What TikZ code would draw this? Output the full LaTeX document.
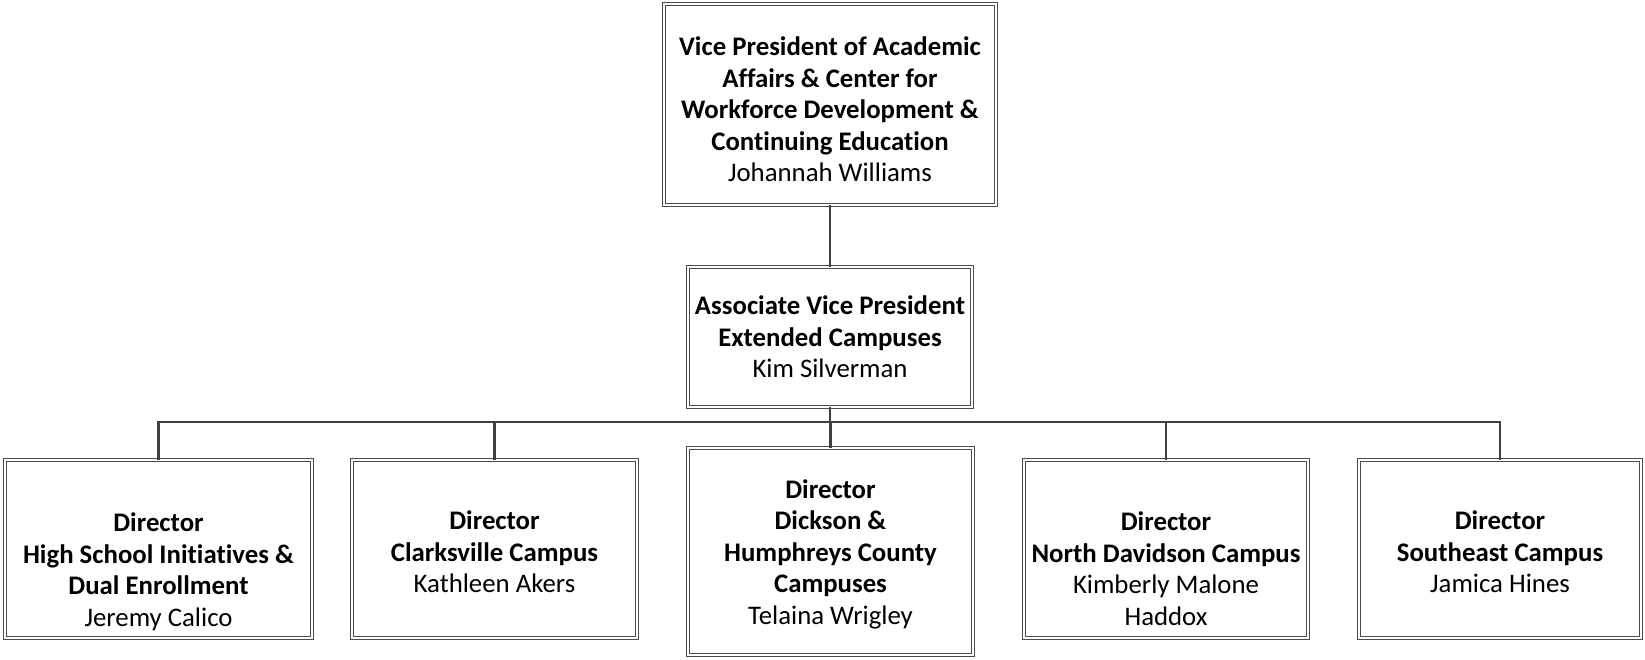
\documentclass[tikz,border=0pt]{standalone}
\usepackage{fontspec}
\setmainfont{Carlito}[Ligatures=NoCommon]
\newcommand\liftline[1]{\rule{0pt}{#1pt}}
\begin{document}
\begin{tikzpicture}[x=1pt,y=-1pt,
  box/.style={draw=black!70, double=white, double distance=2.5pt, line width=0.7pt, rectangle,
    align=center, inner sep=0pt, font=\fontsize{26.8}{31.5}\selectfont},
  conn/.style={draw=black!75, line width=2.2pt}]
\useasboundingbox (0,0) rectangle (1645,660);
\node[box, minimum width=332pt, minimum height=201pt] (vp) at (830,104.5)
  {\liftline{29}\textbf{Vice President of Academic}\\\textbf{Affairs \& Center for}\\\textbf{Workforce Development \&}\\\textbf{Continuing Education}\\Johannah Williams};
\node[box, minimum width=284pt, minimum height=140pt] (avp) at (830,337)
  {\textbf{Associate Vice President}\\\textbf{Extended Campuses}\\Kim Silverman};
\node[box, minimum width=307pt, minimum height=178pt] (c1) at (158.5,549)
  {\liftline{64}\textbf{Director}\\\textbf{High School Initiatives \&}\\\textbf{Dual Enrollment}\\Jeremy Calico};
\node[box, minimum width=285pt, minimum height=178pt] (c2) at (494.5,549)
  {\liftline{25}\textbf{Director}\\\textbf{Clarksville Campus}\\Kathleen Akers};
\node[box, minimum width=285pt, minimum height=207pt] (c3) at (830.5,551.5)
  {\liftline{24}\textbf{Director}\\\textbf{Dickson \&}\\\textbf{Humphreys County}\\\textbf{Campuses}\\Telaina Wrigley};
\node[box, minimum width=284pt, minimum height=178pt] (c4) at (1166,549)
  {\liftline{58}\textbf{Director}\\\textbf{North Davidson Campus}\\Kimberly Malone\\Haddox};
\node[box, minimum width=282pt, minimum height=178pt] (c5) at (1500,549)
  {\liftline{25}\textbf{Director}\\\textbf{Southeast Campus}\\Jamica Hines};
\coordinate (bar) at (830,422);
\draw[conn] (vp.south) -- (avp.north);
\draw[conn] (avp.south) -- (avp.south |- bar);
\draw[conn] (c1.north) -- (c1.north |- bar) -- (c5.north |- bar) -- (c5.north);
\draw[conn] (c2.north) -- (c2.north |- bar);
\draw[conn] (c3.north) -- (c3.north |- bar);
\draw[conn] (c4.north) -- (c4.north |- bar);
\end{tikzpicture}
\end{document}
